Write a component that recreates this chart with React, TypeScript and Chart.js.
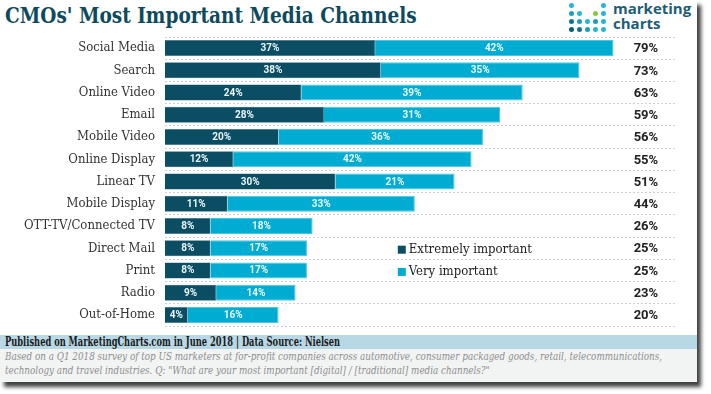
import React, { useEffect, useRef } from "react";
import { Chart, registerables } from "chart.js";
Chart.register(...registerables);

const categories = [
  "Social Media", "Search", "Online Video", "Email", "Mobile Video", "Online Display",
  "Linear TV", "Mobile Display", "OTT-TV/Connected TV", "Direct Mail", "Print", "Radio", "Out-of-Home",
];
const extremelyImportant = [37, 38, 24, 28, 20, 12, 30, 11, 8, 8, 8, 9, 4];
const veryImportant = [42, 35, 39, 31, 36, 42, 21, 33, 18, 17, 17, 14, 16];
const totals = [79, 73, 63, 59, 56, 55, 51, 44, 26, 25, 25, 23, 20];
const seriesNames = ["Extremely important", "Very important"];

const DARK = "#0b4d63";
const LIGHT = "#00acd2";
const SERIF = "'DejaVu Serif Condensed', 'DejaVu Serif', serif";

const labelsPlugin = {
  id: "labels",
  afterDatasetsDraw(chart: any) {
    const ctx = chart.ctx;
    ctx.save();
    ctx.font = "bold 10px Roboto, 'DejaVu Sans', sans-serif";
    ctx.fillStyle = "#eaf6fa";
    ctx.textAlign = "center";
    ctx.textBaseline = "middle";
    chart.data.datasets.forEach((ds: any, di: number) => {
      const meta = chart.getDatasetMeta(di);
      meta.data.forEach((bar: any, i: number) => {
        const cx = (bar.x + bar.base) / 2;
        ctx.fillText(ds.data[i] + "%", cx, bar.y + 0.5);
      });
    });
    const xs = chart.scales.x;
    const ys = chart.scales.y;
    ctx.font = "bold 13px Roboto, 'DejaVu Sans', sans-serif";
    ctx.fillStyle = "#222";
    totals.forEach((t, i) => {
      ctx.fillText(t + "%", xs.getPixelForValue(84.7), ys.getPixelForValue(i) + 1);
    });
    ctx.textAlign = "left";
    ctx.font = "13px " + SERIF;
    const lx = xs.getPixelForValue(41);
    [9, 10].forEach((ci, k) => {
      const y = ys.getPixelForValue(ci) + 1.5;
      ctx.fillStyle = chart.data.datasets[k].backgroundColor;
      ctx.fillRect(lx, y - 4, 8, 8);
      ctx.fillStyle = "#222";
      ctx.fillText(chart.data.datasets[k].label, lx + 11, y);
    });
    ctx.restore();
  },
};

function Logo() {
  const grid: (string | null)[][] = [
    ["#29b3d6", null, null, null, "#29b3d6"],
    ["#1b9cc0", "#29b6d8", null, "#8cc63f", "#29b3d6"],
    ["#17718d", "#1b9cc0", "#29b3d6", "#1b9cc0", "#29b3d6"],
    ["#0f5a73", "#17718d", "#1b9cc0", "#29b3d6", "#29b3d6"],
  ];
  const dots: any[] = [];
  grid.forEach((row, r) =>
    row.forEach((c, col) => {
      if (c)
        dots.push(
          <div key={r + "-" + col} style={{ position: "absolute", left: 569 + col * 8, top: 3 + r * 8, width: 5, height: 5, borderRadius: "50%", background: c }} />
        );
    })
  );
  return (
    <>
      {dots}
      <div style={{ position: "absolute", left: 613, top: 1, fontFamily: "'Open Sans', sans-serif", fontWeight: 700, fontSize: 15, lineHeight: "15px", color: "#1d5e74" }}>
        marketing
        <br />
        charts
      </div>
    </>
  );
}

export default function App() {
  const ref = useRef<HTMLCanvasElement>(null);
  useEffect(() => {
    const chart = new Chart(ref.current!, {
      type: "bar",
      data: {
        labels: categories,
        datasets: [
          { label: seriesNames[0], data: extremelyImportant, backgroundColor: DARK, borderColor: "#2f6a7d", borderWidth: 0.5, categoryPercentage: 1, barPercentage: 0.72 },
          { label: seriesNames[1], data: veryImportant, backgroundColor: LIGHT, borderColor: "#4cc6e3", borderWidth: 1, categoryPercentage: 1, barPercentage: 0.72 },
        ],
      },
      options: {
        indexAxis: "y",
        animation: false,
        responsive: false,
        layout: { padding: { top: 7, bottom: 4, right: 21, left: 0 } },
        plugins: { legend: { display: false }, tooltip: { enabled: false }, title: { display: false } },
        scales: {
          x: { display: false, stacked: true, min: 0, max: 90 },
          y: {
            stacked: true,
            border: { display: false, dash: [2, 2] },
            grid: { offset: true, color: "#cfcfcf", drawTicks: false, lineWidth: 1 },
            ticks: { color: "#333", padding: 10, font: { family: SERIF, size: 13 } },
            afterFit(scale: any) {
              scale.width = 165;
              scale.paddingTop = 0;
              scale.paddingBottom = 0;
            },
          } as any,
        },
      } as any,
      plugins: [labelsPlugin],
    });
    return () => chart.destroy();
  }, []);

  return (
    <div style={{ position: "fixed", left: 0, top: 0, width: 711, height: 394, background: "#fff", overflow: "hidden" }}>
      <div style={{ position: "absolute", left: 0, top: 0, width: 697, height: 382, background: "#fff", boxShadow: "4px 5px 4px rgba(0,0,0,0.75)" }}>
        <div style={{ position: "absolute", left: 5, top: 1, fontFamily: SERIF, fontWeight: 700, fontSize: 23, color: "#0e4a5d", whiteSpace: "nowrap", transform: "scaleX(0.895)", transformOrigin: "0 0" }}>
          CMOs' Most Important Media Channels
        </div>
        <Logo />
        <canvas ref={ref} width={697} height={300} style={{ position: "absolute", left: 0, top: 30 }} />
        <div style={{ position: "absolute", left: 0, top: 335, width: 697, height: 14, background: "#b8d8e5" }} />
        <div style={{ position: "absolute", left: 0, top: 349, width: 697, height: 33, background: "#f2f4f4" }} />
        <div style={{ position: "absolute", left: 5, top: 334, fontFamily: SERIF, fontWeight: 700, fontSize: 12, lineHeight: "16px", color: "#1a1a1a", whiteSpace: "nowrap", transform: "scaleX(0.77)", transformOrigin: "0 0" }}>
          Published on MarketingCharts.com in June 2018 | Data Source: Nielsen
        </div>
        <div style={{ position: "absolute", left: 5, top: 350, fontFamily: SERIF, fontStyle: "italic", fontSize: 11, lineHeight: "14px", color: "#8e8e8e", whiteSpace: "nowrap", transform: "scaleX(0.89)", transformOrigin: "0 0" }}>
          Based on a Q1 2018 survey of top US marketers at for-profit companies across automotive, consumer packaged goods, retail, telecommunications,
          <br />
          technology and travel industries. Q: "What are your most important [digital] / [traditional] media channels?"
        </div>
      </div>
    </div>
  );
}
